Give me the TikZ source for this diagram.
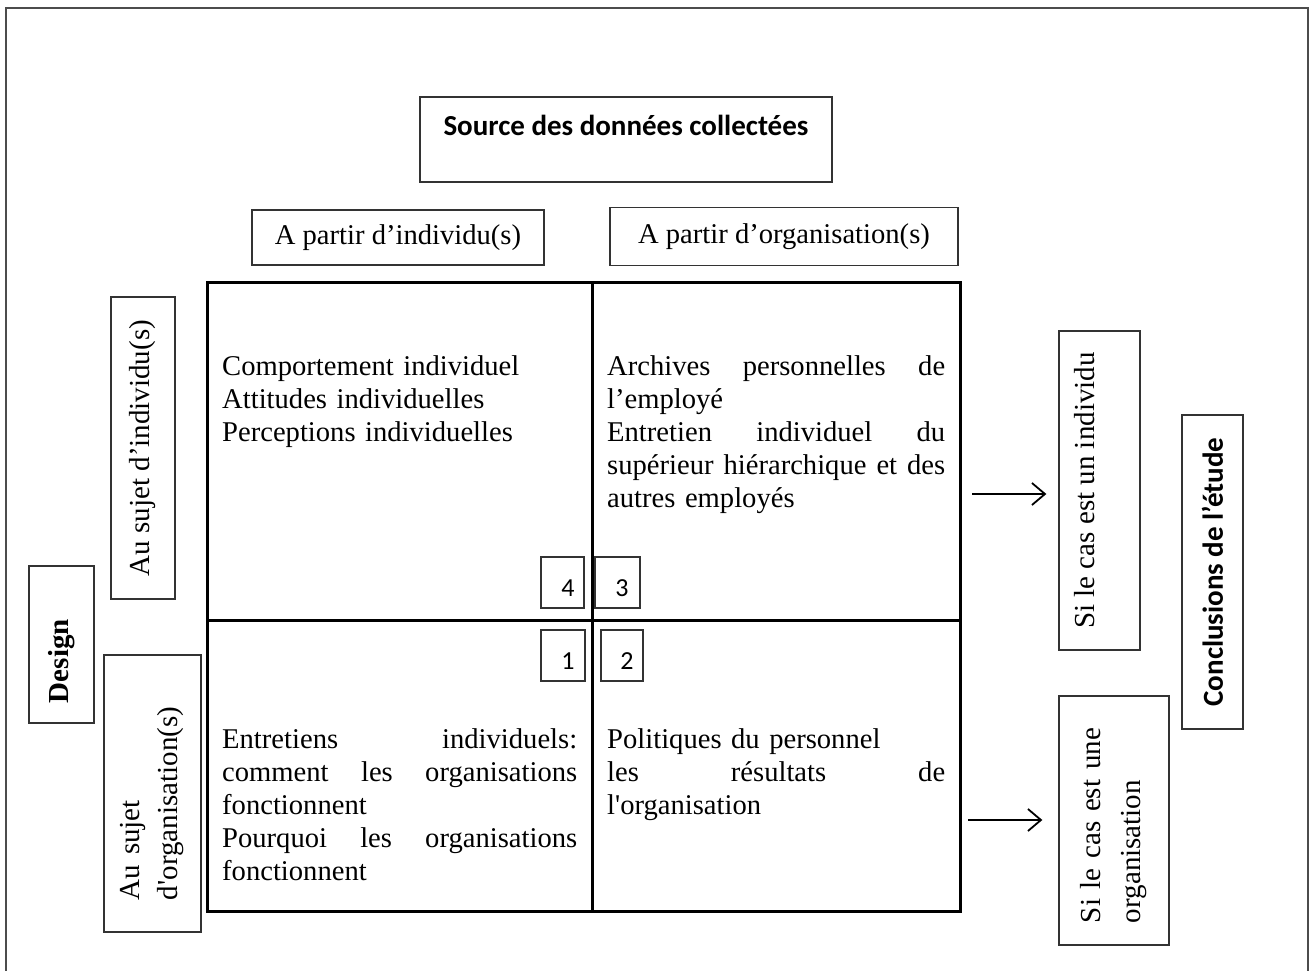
\documentclass[tikz,border=0pt]{standalone}
\usepackage{fontspec}
\setmainfont{Liberation Serif}
\newfontfamily\calib{Carlito}
\usetikzlibrary{arrows.meta}
\definecolor{boxc}{gray}{0.2}
\definecolor{framec}{gray}{0.3}
\newcommand\justline[2]{\makebox[#1][s]{\spaceskip=0pt\relax #2}}
\begin{document}
\begin{tikzpicture}[x=1pt,y=-1pt,
  box/.style={draw=boxc,line width=1.3pt,inner sep=0pt},
  rbox/.style={box,rotate=90},
  body/.style={inner sep=0pt,font=\fontsize{28.6}{33}\selectfont,align=left},
  side/.style={font=\fontsize{29}{38}\selectfont},
  numbox/.style={box,minimum width=43pt,minimum height=51pt,font=\calib\fontsize{26}{30}\selectfont,text height=28.5pt,text depth=0pt},
  gridline/.style={line width=3pt,black},
  arr/.style={line width=1.8pt,-{Straight Barb[length=13pt,width=22pt]}}]
\useasboundingbox (0,0) rectangle (1315,971);
\draw[framec,line width=2pt] (6,971) -- (6,8) -- (1308,8) -- (1308,971);

% header
\node[box,minimum width=412pt,minimum height=85pt] (src) at (626,139.5) {};
\node[inner sep=0pt,anchor=base,font=\calib\bfseries\fontsize{29}{35}\selectfont] (srctxt) at (626,136) {Source des données collectées};
\node[box,minimum width=292pt,minimum height=55pt,font=\fontsize{28.6}{33}\selectfont] (find) at (398,237.5) {A partir d’individu(s)};
\node[box,minimum width=348pt,minimum height=58pt,font=\fontsize{28.6}{33}\selectfont] (forg) at (784,236.5) {A partir d’organisation(s)};

% grid
\node[draw,line width=3pt,minimum width=753pt,minimum height=629pt,inner sep=0pt] (grid) at (583.5,596.5) {};
\draw[gridline] (592,282) -- (592,911);
\draw[gridline] (207,620) -- (960,620);

\node[body,anchor=base west,text width=355pt] (tl) at (222,375) {Comportement individuel\\Attitudes individuelles\\Perceptions individuelles};
\node[body,anchor=base west,text width=338pt] (tr) at (607,375) {\justline{338pt}{Archives personnelles de}\\l’employé\\\justline{338pt}{Entretien individuel du}\\\justline{338pt}{supérieur hiérarchique et des}\\autres employés};
\node[body,anchor=base west,text width=355pt] (bl) at (222,748) {\justline{355pt}{Entretiens individuels:}\\\justline{355pt}{comment les organisations}\\fonctionnent\\\justline{355pt}{Pourquoi les organisations}\\fonctionnent};
\node[body,anchor=base west,text width=338pt] (br) at (607,748) {Politiques du personnel\\\justline{338pt}{les résultats de}\\l\textquotesingle organisation};

\node[numbox] (n4) at (562.5,582.5) {\hspace*{11pt}4};
\node[numbox,minimum width=45pt] (n3) at (617.5,582.5) {\hspace*{9pt}3};
\node[numbox,minimum width=44pt] (n1) at (563,655.5) {\hspace*{10pt}1};
\node[numbox,minimum width=42pt] (n2) at (622,655.5) {\hspace*{10pt}2};

% left side
\node[rbox,side,minimum width=302pt,minimum height=64pt] (sind) at (143,448) {Au sujet d’individu(s)};
\node[rbox,minimum width=157pt,minimum height=65pt,text width=117pt,align=left,font=\bfseries\fontsize{29}{35}\selectfont] (design) at (61.5,644.5) {Design};
\node[rbox,side,minimum width=277pt,minimum height=97pt,text width=213pt,align=left] (sorg) at (152.5,793.5) {Au sujet\\d\textquotesingle organisation(s)};

% right side
\node[rbox,side,minimum width=319pt,minimum height=81pt,text height=20pt,text depth=30pt] (cas1) at (1099.5,490.5) {Si le cas est un individu};
\node[rbox,minimum width=249pt,minimum height=110pt,text width=205pt,align=left,font=\fontsize{29}{40}\selectfont] (cas2) at (1114,820.5) {Si le cas est une\\organisation};
\node[rbox,minimum width=314pt,minimum height=61pt,font=\calib\bfseries\fontsize{29}{35}\selectfont] (concl) at (1212.5,572) {Conclusions de l’étude};

\coordinate (a1) at (972,494);
\coordinate (a2) at (968,820);
\draw[arr,shorten >=12pt] (a1) -- (a1 -| cas1.north);
\draw[arr,shorten >=16pt] (a2) -- (a2 -| cas2.north);
\end{tikzpicture}
\end{document}
